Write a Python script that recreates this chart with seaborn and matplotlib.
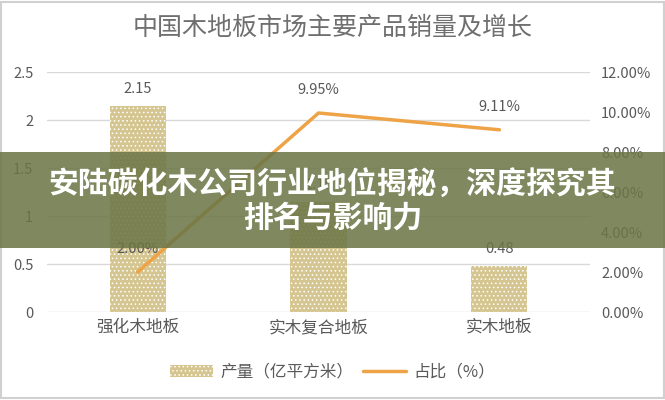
import matplotlib.pyplot as plt
import matplotlib.patches as mpatches
from matplotlib.lines import Line2D
import seaborn as sns

# chart data
categories = ['强化木地板', '实木复合地板', '实木地板']
output = [2.15, 1.15, 0.48]          # 产量（亿平方米）
share = [2.00, 9.95, 9.11]           # 占比（%）
left_ticks = [0, 0.5, 1, 1.5, 2, 2.5]
right_ticks = [0, 2, 4, 6, 8, 10, 12]

title = '中国木地板市场主要产品销量及增长'
banner = '安陆碳化木公司行业地位揭秘，深度探究其\n排名与影响力'

sns.set_style('white')
plt.rcParams['font.family'] = ['Noto Sans CJK SC', 'DejaVu Sans']
plt.rcParams['hatch.color'] = '#b3a169'
plt.rcParams['hatch.linewidth'] = 0.6

grey = '#595959'
bar_color = '#d5c590'
line_color = '#eda346'

fig = plt.figure(figsize=(6.65, 4), dpi=100)
ax = fig.add_axes([0.071, 0.22, 0.816, 0.60])

sns.barplot(x=categories, y=output, ax=ax, color=bar_color, width=0.31,
            hatch='....', linewidth=0, saturation=1, zorder=2)
ax.set_ylim(0, 2.5)
ax.set_yticks(left_ticks)
ax.set_yticklabels(['0', '0.5', '1', '1.5', '2', '2.5'])
ax.yaxis.grid(True, color='#d9d9d9', linewidth=1, zorder=0)
ax.set_axisbelow(True)
ax.tick_params(axis='y', length=0, labelsize=10.5, labelcolor=grey, pad=10)
ax.tick_params(axis='x', length=0, labelsize=12, labelcolor=grey, pad=5)
for i, v in enumerate(output):
    ax.text(i, v + 0.1, f'{v:.2f}', ha='center', va='bottom', fontsize=10.5, color=grey)

ax2 = ax.twinx()
sns.lineplot(x=[0, 1, 2], y=share, ax=ax2, color=line_color, linewidth=2.5,
             sort=False, zorder=3)
ax2.set_ylim(0, 12)
ax2.set_yticks(right_ticks)
ax2.set_yticklabels([f'{t:.2f}%' for t in right_ticks])
ax2.tick_params(axis='y', length=0, labelsize=10.5, labelcolor=grey, pad=8)
for i, v in enumerate(share):
    ax2.text(i, v + 0.8, f'{v:.2f}%', ha='center', va='bottom', fontsize=10.5, color=grey)
ax.set_xlim(-0.5, 2.5)
ax2.set_xlim(-0.5, 2.5)

for a in (ax, ax2):
    for s in a.spines.values():
        s.set_visible(False)

fig.text(0.5, 0.93, title, ha='center', va='center', fontsize=18, color='#6f6f6f')

handles = [mpatches.Patch(facecolor=bar_color, hatch='....', linewidth=0),
           Line2D([0], [0], color=line_color, linewidth=2.5)]
fig.legend(handles, ['产量（亿平方米）', '占比（%）'], loc='center',
           bbox_to_anchor=(0.5, 0.07), ncol=2, frameon=False, fontsize=12,
           labelcolor=grey, handlelength=2.6, columnspacing=0.6, handletextpad=0.4)

# frame around the chart
fig.add_artist(mpatches.Rectangle((0.002, 0.004), 0.996, 0.992, transform=fig.transFigure,
                                  fill=False, edgecolor='#d0d0d0', linewidth=1.5))

# overlay banner
fig.add_artist(mpatches.Rectangle((0, 1 - 248 / 400), 1, 96 / 400, transform=fig.transFigure,
                                  facecolor='#6b7545', alpha=0.86, linewidth=0, zorder=10))
fig.text(0.5, 1 - 201 / 400, banner, ha='center', va='center', fontsize=21.5,
         fontweight='heavy', color='white', linespacing=1.15, zorder=11)

fig.savefig('out.png', dpi=100)
